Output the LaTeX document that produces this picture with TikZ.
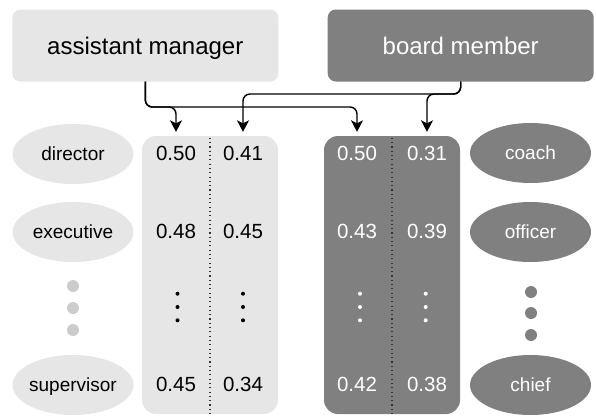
\documentclass[tikz,border=0pt]{standalone}
\usepackage{fontspec}
\setmainfont{Liberation Sans}
\usetikzlibrary{arrows.meta,shapes.geometric}
\definecolor{lightg}{HTML}{E6E6E6}
\definecolor{darkg}{HTML}{808080}
\definecolor{dotg}{HTML}{CCCCCC}
\newcommand{\zw}[1]{\makebox[0pt]{#1}}
\begin{document}
\begin{tikzpicture}[x=1pt,y=-1pt,
  topbox/.style={rectangle, rounded corners=8pt, minimum width=266pt, minimum height=72pt,
    inner sep=0pt, text height=17pt, text depth=0pt, font=\fontsize{24}{28}\selectfont},
  lab/.style={ellipse, minimum width=121pt, minimum height=60pt, inner sep=0pt,
    text height=13.7pt, text depth=0pt, font=\fontsize{19}{22}\selectfont},
  colbox/.style={rectangle, rounded corners=14pt, minimum width=136pt, minimum height=278pt, inner sep=0pt},
  num/.style={inner sep=0pt, font=\fontsize{20.5}{24}\selectfont},
  arr/.style={line width=1.4pt, rounded corners=7pt, -{Stealth[length=11.5pt,width=12pt,inset=3pt]}, shorten >=4pt},
  dotl/.style={line width=1.1pt, dash pattern=on 1.1pt off 3.2pt, color=black!80},
  bigdot/.style={circle, minimum size=12pt, inner sep=0pt},
  smalldot/.style={circle, minimum size=4pt, inner sep=0pt},
]
\useasboundingbox (0,0) rectangle (596,415);

% top boxes
\node[topbox, fill=lightg] (am) at (145.3,45.5) {assistant manager};
\node[topbox, fill=darkg, text=white] (bm) at (460.7,45.5) {board member};

% columns
\node[colbox, fill=lightg] (colL) at (210,275) {};
\node[colbox, fill=darkg] (colR) at (392,275) {};
\draw[dotl] ([yshift=-2pt]colL.north) -- (colL.south);
\draw[dotl] ([yshift=-2pt]colR.north) -- (colR.south);

% left labels
\node[lab, fill=lightg] (l1) at (73,154) {\zw{director}};
\node[lab, fill=lightg] (l2) at (73,232) {\zw{executive}};
\node[lab, fill=lightg] (l3) at (73,385) {\zw{supervisor}};
\node[bigdot, fill=dotg] (gd1) at (73,286) {};
\node[bigdot, fill=dotg] (gd2) at (73,308) {};
\node[bigdot, fill=dotg] (gd3) at (73,330) {};

% right labels
\node[lab, fill=darkg, text=white] (r1) at (530.5,153) {\zw{coach}};
\node[lab, fill=darkg, text=white] (r2) at (530.5,232) {\zw{officer}};
\node[lab, fill=darkg, text=white] (r3) at (530.5,385) {\zw{chief}};
\node[bigdot, fill=darkg] (dd1) at (531,292) {};
\node[bigdot, fill=darkg] (dd2) at (531,313) {};
\node[bigdot, fill=darkg] (dd3) at (531,335) {};

% numbers left
\node[num] (n11) at (176,153.3) {0.50};
\node[num] (n12) at (243,153.3) {0.41};
\node[num] at (176,231) {0.48};
\node[num] at (243,231) {0.45};
\node[num] at (176,384) {0.45};
\node[num] at (243,384) {0.34};
% numbers right
\node[num, text=white] (n21) at (357,153.3) {0.50};
\node[num, text=white] (n22) at (427,153.3) {0.31};
\node[num, text=white] at (357,231) {0.43};
\node[num, text=white] at (427,231) {0.39};
\node[num, text=white] at (357,384) {0.42};
\node[num, text=white] at (427,384) {0.38};

% vertical ellipses in columns
\foreach \yy [count=\i] in {293.7,307,320.3}{
  \node[smalldot, fill=black] (ea\i) at (177.5,\yy) {};
  \node[smalldot, fill=black] (eb\i) at (243,\yy) {};
  \node[smalldot, fill=white] (ec\i) at (360,\yy) {};
  \node[smalldot, fill=white] (ed\i) at (425.7,\yy) {};
}

% connectors
\coordinate (hl) at (0,107);
\coordinate (hr) at (0,94);
\draw[arr] (am.south) |- (hl -| n11) -- (n11 |- colL.north);
\draw[arr] (am.south) |- (hl -| n21) -- (n21 |- colR.north);
\draw[arr] (bm.south) |- (hr -| n12) -- (n12 |- colL.north);
\draw[arr] (bm.south) |- (hr -| n22) -- (n22 |- colR.north);
\end{tikzpicture}
\end{document}
